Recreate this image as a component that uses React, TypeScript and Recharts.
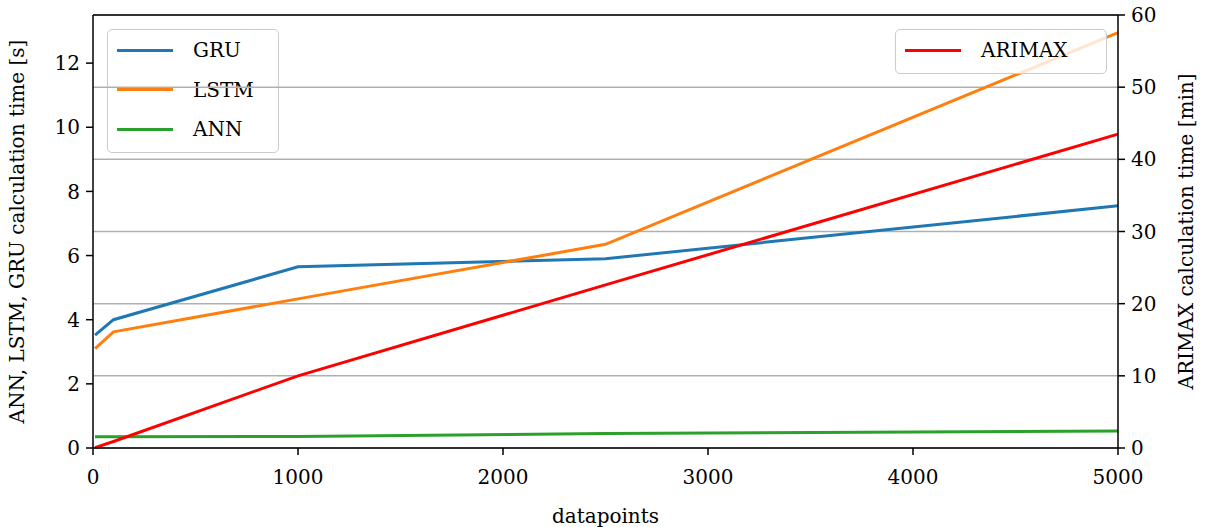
import { CartesianGrid, Line, LineChart, ReferenceLine, XAxis, YAxis } from 'recharts';

// datapoints on the x axis
const points = [10, 100, 1000, 2500, 5000];
// calculation times in seconds
const gru = [3.52, 4.0, 5.65, 5.9, 7.55];
const lstm = [3.1, 3.62, 4.65, 6.35, 12.95];
const ann = [0.35, 0.35, 0.36, 0.45, 0.53];
// ARIMAX in minutes
const arimax = [0.05, 0.9, 10.0, 22.6, 43.5];

const leftTicks = [0, 2, 4, 6, 8, 10, 12];
const rightTicks = [0, 10, 20, 30, 40, 50, 60];
const xTicks = [0, 1000, 2000, 3000, 4000, 5000];

const colors = { GRU: '#1f77b4', LSTM: '#ff7f0e', ANN: '#2ca02c', ARIMAX: '#ff0000' };

const data = points.map((p, i) => ({ x: p, GRU: gru[i], LSTM: lstm[i], ANN: ann[i], ARIMAX: arimax[i] }));

const font = 'DejaVu Serif';
const tickStyle = { fill: '#000', fontSize: 20, fontFamily: font };

function LegendBox({ names, left, top, width }: { names: (keyof typeof colors)[]; left: number; top: number; width: number }) {
  return (
    <div
      style={{
        position: 'absolute',
        left,
        top,
        width,
        height: names.length * 39.5 + 5,
        background: 'rgba(255,255,255,0.8)',
        border: '1.5px solid #cccccc',
        borderRadius: 5,
        boxSizing: 'border-box',
      }}
    >
      {names.map((n, i) => (
        <div key={n} style={{ position: 'absolute', left: 9, top: 8 + i * 39.5, height: 24, display: 'flex', alignItems: 'center' }}>
          <div style={{ width: 56, height: 3, background: colors[n] }} />
          <span style={{ marginLeft: 20, fontFamily: font, fontSize: 20, color: '#000' }}>{n}</span>
        </div>
      ))}
    </div>
  );
}

export default function App() {
  return (
    <div style={{ position: 'absolute', left: 0, top: 0, width: 1209, height: 527, background: '#fff' }}>
      {/* left legend sits under the twin axis grid, like in matplotlib */}
      <LegendBox left={107} top={29} width={172} names={['GRU', 'LSTM', 'ANN']} />
      <div style={{ position: 'absolute', left: 0, top: 0 }}>
        <LineChart width={1209} height={527} data={data} margin={{ top: 15, right: 11, left: 13, bottom: 4 }}>
          <CartesianGrid yAxisId="right" vertical={false} stroke="#b0b0b0" strokeWidth={1.5} />
          <XAxis
            dataKey="x"
            type="number"
            domain={[0, 5000]}
            ticks={xTicks}
            height={75}
            stroke="#000"
            strokeWidth={1.5}
            tick={tickStyle}
            tickSize={7}
            tickMargin={15}
            label={{ value: 'datapoints', position: 'insideBottom', offset: 0, style: { ...tickStyle } }}
          />
          <YAxis
            yAxisId="left"
            domain={[0, 13.5]}
            ticks={leftTicks}
            width={80}
            stroke="#000"
            strokeWidth={1.5}
            tick={tickStyle}
            tickSize={7}
            tickMargin={6}
            allowDataOverflow
            label={{ value: 'ANN, LSTM, GRU calculation time [s]', angle: -90, position: 'insideLeft', offset: 4, style: { ...tickStyle, textAnchor: 'middle' } }}
          />
          <YAxis
            yAxisId="right"
            orientation="right"
            domain={[0, 60]}
            ticks={rightTicks}
            width={80}
            stroke="#000"
            strokeWidth={1.5}
            tick={tickStyle}
            tickSize={7}
            tickMargin={6}
            label={{ value: 'ARIMAX calculation time [min]', angle: -90, position: 'insideRight', offset: 12, style: { ...tickStyle, textAnchor: 'middle' } }}
          />
          <ReferenceLine yAxisId="left" y={13.5} stroke="#000" strokeWidth={1.5} />
          <Line yAxisId="left" dataKey="GRU" stroke={colors.GRU} strokeWidth={3} dot={false} isAnimationActive={false} />
          <Line yAxisId="left" dataKey="LSTM" stroke={colors.LSTM} strokeWidth={3} dot={false} isAnimationActive={false} />
          <Line yAxisId="left" dataKey="ANN" stroke={colors.ANN} strokeWidth={3} dot={false} isAnimationActive={false} />
          <Line yAxisId="right" dataKey="ARIMAX" stroke={colors.ARIMAX} strokeWidth={3} dot={false} isAnimationActive={false} />
        </LineChart>
      </div>
      <LegendBox left={895} top={29} width={212} names={['ARIMAX']} />
    </div>
  );
}
